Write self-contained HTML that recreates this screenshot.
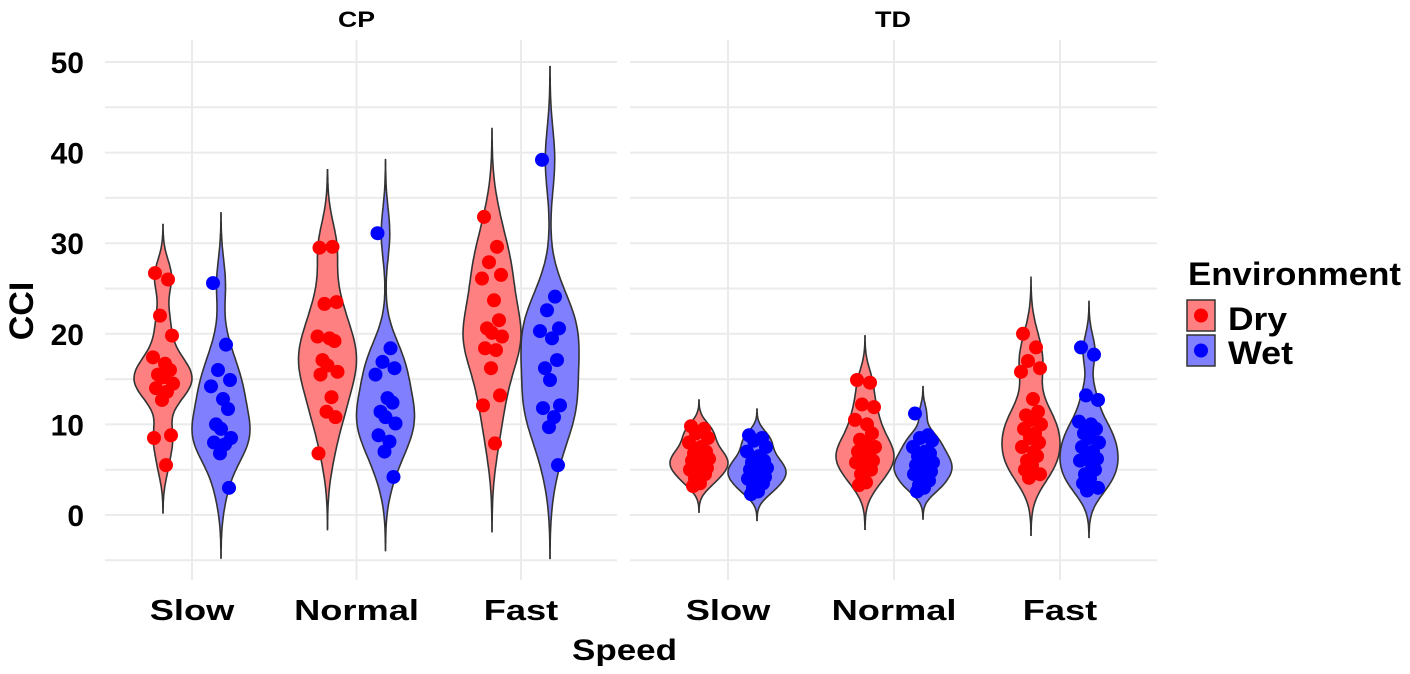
<!DOCTYPE html>
<html><head><meta charset="utf-8"><style>
html,body{margin:0;padding:0;background:#fff;}
svg{display:block;font-family:"Liberation Sans",Arial,sans-serif;font-weight:bold;}
</style></head><body>
<svg id="chart" width="1410" height="674" viewBox="0 0 1410 674">
<g id="grid"></g>
<g id="violins"></g>
<g id="points"></g>
<g id="axes"></g>
<text x="338" y="27" font-size="22" textLength="37" lengthAdjust="spacingAndGlyphs">CP</text>
<text x="875" y="27" font-size="22" textLength="36" lengthAdjust="spacingAndGlyphs">TD</text>
<text x="572" y="660" font-size="30" textLength="105" lengthAdjust="spacingAndGlyphs">Speed</text>
<text transform="translate(33,311) rotate(-90)" font-size="34" text-anchor="middle">CCI</text>
<g>
<text x="1188" y="285" font-size="32" textLength="213" lengthAdjust="spacingAndGlyphs">Environment</text>
<g>
<rect x="1187" y="300" width="28" height="31" fill="#ff8080" stroke="#333" stroke-width="1.5"/>
<circle cx="1201" cy="315.5" r="7" fill="#ff0000"/>
<text x="1228" y="330" font-size="32" textLength="59" lengthAdjust="spacingAndGlyphs">Dry</text></g>
<g>
<rect x="1187" y="335" width="28" height="31" fill="#8080ff" stroke="#333" stroke-width="1.5"/>
<circle cx="1201" cy="350.5" r="7" fill="#0000ff"/>
<text x="1228" y="364" font-size="32" textLength="65" lengthAdjust="spacingAndGlyphs">Wet</text></g>
</g>
</svg>
<script>
const panels = ["CP","TD"];
const speeds = ["Slow","Normal","Fast"];
const yTicks = [0,10,20,30,40,50];
const cpSlowDry = [26.7,26,22,19.8,17.4,16.7,16,15.5,15.2,14.5,14,13.6,12.7,8.8,8.5,5.5];
const cpSlowWet = [25.6,18.8,16,14.9,14.2,12.8,11.7,10,9.5,8.5,8,7.8,6.8,3];
const cpNormalDry = [29.5,29.6,23.3,23.5,19.7,19.5,19.2,17.1,16.5,15.8,15.5,13,11.4,10.8,6.8];
const cpNormalWet = [31.1,18.4,16.9,16.2,15.5,12.9,12.4,11.4,10.8,10.1,8.8,8.1,7,4.2];
const cpFastDry = [32.9,29.6,27.9,26.5,26.1,23.7,21.5,20.6,20.1,19.7,18.4,18.2,16.2,13.2,12.1,7.9];
const cpFastWet = [39.2,24.1,22.6,20.6,20.3,19.5,17.1,16.2,14.9,12.1,11.8,10.8,9.7,5.5];
const tdSlowDry = [9.8,9.5,9,8.5,8,7.5,7,6.8,6.5,6.2,6,5.8,5.5,5.2,5,4.8,4.5,4,3.5,3.2];
const tdSlowWet = [8.8,8.5,8.2,7.5,7,6.5,6,5.8,5.5,5.2,5,4.8,4.5,4.2,4,3.8,3.5,3,2.6,2.3];
const tdNormalDry = [14.9,14.6,12.2,11.9,10.5,10,9,8.3,8,7.5,7,6.8,6.5,6,5.8,5.5,5,4.5,3.6,3.3];
const tdNormalWet = [11.2,8.8,8.5,8.2,7.5,7,6.8,6.5,6,5.8,5.5,5.2,5,4.8,4.5,4,3.8,3.3,3,2.6];
const tdFastDry = [20,18.5,17,16.2,15.8,12.8,11.4,11,10.5,10,9.5,9,8.5,8,7.5,7,6.5,6,5.5,5,4.5,4.1];
const tdFastWet = [18.5,17.7,13.2,12.7,10.3,10,9.5,9,8.5,8,7.5,7,6.5,6.2,6,5.5,5,4.5,4,3.5,3,2.7];

const groups = [
 [[cpSlowDry,cpSlowWet],[cpNormalDry,cpNormalWet],[cpFastDry,cpFastWet]],
 [[tdSlowDry,tdSlowWet],[tdNormalDry,tdNormalWet],[tdFastDry,tdFastWet]]
];
const NS="http://www.w3.org/2000/svg";
const y = v => 515 - v*9.06;
const panelX = [{x0:105,x1:617,c0:192,step:164.5},{x0:630,x1:1157,c0:728,step:166}];
const xCat = (p,i) => panelX[p].c0 + i*panelX[p].step;
const dodge = 29, halfW = 29;
const labelScale = 1.25;
function mk(tag, attrs, parent){const e=document.createElementNS(NS,tag);for(const k in attrs)e.setAttribute(k,attrs[k]);parent.appendChild(e);return e;}
const grid=document.getElementById('grid'), vg=document.getElementById('violins'), pg=document.getElementById('points'), ax=document.getElementById('axes');

panels.forEach((pn,p)=>{
  for(let v=-5; v<=50; v+=5){
    const l=mk('line',{x1:panelX[p].x0,x2:panelX[p].x1,y1:y(v),y2:y(v),stroke:'#ebebeb','stroke-width':2},grid);
    
    
  }
  speeds.forEach((s,i)=>{
    const l=mk('line',{x1:xCat(p,i),x2:xCat(p,i),y1:40,y2:580,stroke:'#ebebeb','stroke-width':2},grid);
    
    
    const t=mk('text',{transform:'translate('+xCat(p,i)+',620) scale('+labelScale+',1)','font-size':29,'text-anchor':'middle'},ax);
    t.textContent=s;
    
    
  });
});
yTicks.forEach(v=>{
  const t=mk('text',{x:84,y:y(v)+11,'font-size':30,'text-anchor':'end'},ax);
  t.textContent=v;
  
  
});

function sd(a){const m=a.reduce((s,x)=>s+x,0)/a.length;return Math.sqrt(a.reduce((s,x)=>s+(x-m)**2,0)/(a.length-1));}
function quant(a,q){const b=[...a].sort((x,z)=>x-z);const h=(b.length-1)*q;const lo=Math.floor(h);return b[lo]+(b[Math.min(lo+1,b.length-1)]-b[lo])*(h-lo);}
const fills=['#ff8080','#8080ff'], pcols=['#ff0000','#0000ff'], envs=['dry','wet'];
const jit=[-8,5,-3,9,-10,2,7,-5,0,10,-7,4,-1,8,-9,3,6,-4,1,-6,9,-2];
groups.forEach((g,p)=>g.forEach((pair,i)=>pair.forEach((data,e)=>{
  const cx=xCat(p,i)+(e?dodge:-dodge);
  const n=data.length;
  const iqr=quant(data,0.75)-quant(data,0.25);
  const bw=0.9*Math.min(sd(data),iqr/1.34)*Math.pow(n,-0.2);
  const lo=Math.min(...data)-3*bw, hi=Math.max(...data)+3*bw;
  const N=120, dens=[];
  for(let k=0;k<=N;k++){const v=lo+(hi-lo)*k/N;let d=0;data.forEach(x=>{const u=(v-x)/bw;d+=Math.exp(-0.5*u*u);});dens.push([v,d]);}
  const mx=Math.max(...dens.map(d=>d[1]));
  let path='';
  dens.forEach((d,k)=>{path+=(k?'L':'M')+(cx+halfW*d[1]/mx).toFixed(1)+','+y(d[0]).toFixed(1);});
  for(let k=N;k>=0;k--){const d=dens[k];path+='L'+(cx-halfW*d[1]/mx).toFixed(1)+','+y(d[0]).toFixed(1);}
  path+='Z';
  const el=mk('path',{d:path,fill:fills[e],stroke:'#333','stroke-width':1.6},vg);
  
  
  data.forEach((v,k)=>{
    const c=mk('circle',{cx:cx+jit[k%jit.length],cy:y(v),r:7,fill:pcols[e]},pg);
    
    
  });
})));
</script>
</body></html>
